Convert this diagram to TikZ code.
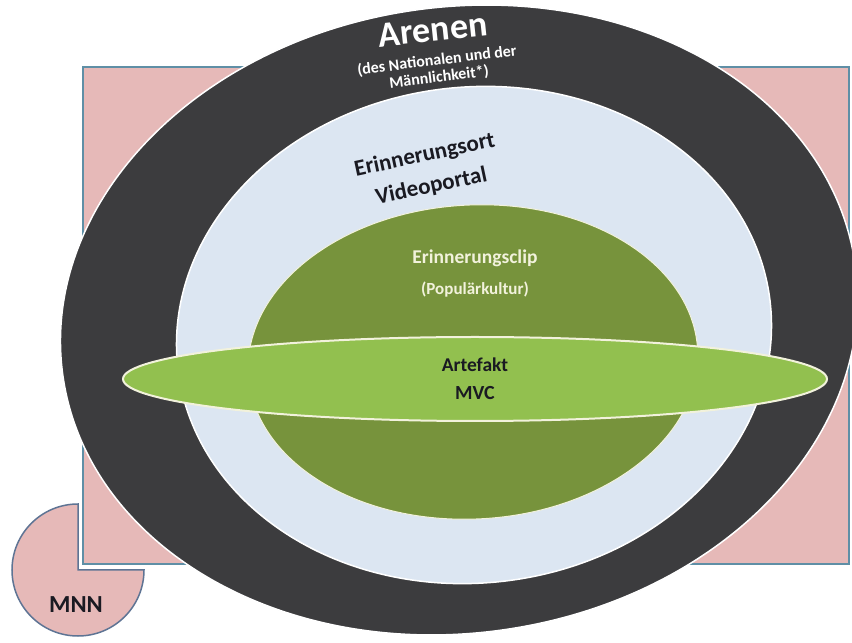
\documentclass[tikz,border=0pt]{standalone}
\usepackage{fontspec}
\setmainfont{Carlito}
\definecolor{rectpink}{HTML}{E6B9B8}
\definecolor{rectline}{HTML}{5F8FA6}
\definecolor{arena}{HTML}{3C3C3E}
\definecolor{portal}{HTML}{DCE6F2}
\definecolor{clipgreen}{HTML}{77933C}
\definecolor{artgreen}{HTML}{92C04F}
\definecolor{cream}{HTML}{F2F2DC}
\definecolor{mnnline}{HTML}{5E7494}
\definecolor{ink}{HTML}{1A1A22}
\tikzset{
  label/.style={inner sep=0pt, align=center, font=\bfseries},
  ring/.style={draw=white, line width=1.5pt},
}
\begin{document}
\begin{tikzpicture}[x=1pt,y=1pt]
\useasboundingbox (0,0) rectangle (852,643);
\fill[white] (0,0) rectangle (852,643);

% background frame
\draw[fill=rectpink, draw=rectline, line width=2pt] (83,79) rectangle (849,576);

% MNN: circle with the upper right quarter cut away
\draw[fill=rectpink, draw=mnnline, line width=1.5pt]
  (78,73) -- (78,139) arc[start angle=90, end angle=360, radius=66pt] -- cycle;

% nested areas
\draw[ring, fill=arena, rotate around={8:(459,323)}]
  (459,323) ellipse [x radius=400pt, y radius=313pt];
\draw[ring, fill=portal, rotate around={6:(474,308)}]
  (474,308) ellipse [x radius=298pt, y radius=248pt];
\draw[draw=cream, line width=1pt, fill=clipgreen, rotate around={3:(473,281)}]
  (473,281) ellipse [x radius=225pt, y radius=157pt];
\draw[draw=cream, line width=2pt, fill=artgreen]
  (475,264) ellipse [x radius=352pt, y radius=42pt];

% labels
\node[label, white, rotate=6, font=\bfseries\fontsize{36}{38}\selectfont] (arenen) at (433,613) {Arenen};
\node[label, white, rotate=7, font=\bfseries\fontsize{16}{17}\selectfont] (arenensub) at (438,574)
  {(des Nationalen und der\\Männlichkeit*)};
\node[label, ink, rotate=12, font=\bfseries\fontsize{23}{32}\selectfont] (ort) at (428,472)
  {Erinnerungsort\\Videoportal};
\node[label, cream, font=\bfseries\fontsize{19.5}{22}\selectfont] (clip) at (475,385) {Erinnerungsclip};
\node[label, cream, font=\bfseries\fontsize{17}{19}\selectfont] (pop) at (475,353) {(Populärkultur)};
\node[label, ink, font=\bfseries\fontsize{19.5}{22}\selectfont] (artefakt) at (475,278) {Artefakt};
\node[label, ink, font=\bfseries\fontsize{20}{22}\selectfont] (mvc) at (475,250) {MVC};
\node[label, ink, font=\bfseries\fontsize{24.5}{26}\selectfont] (mnn) at (76,38) {MNN};
\end{tikzpicture}
\end{document}
